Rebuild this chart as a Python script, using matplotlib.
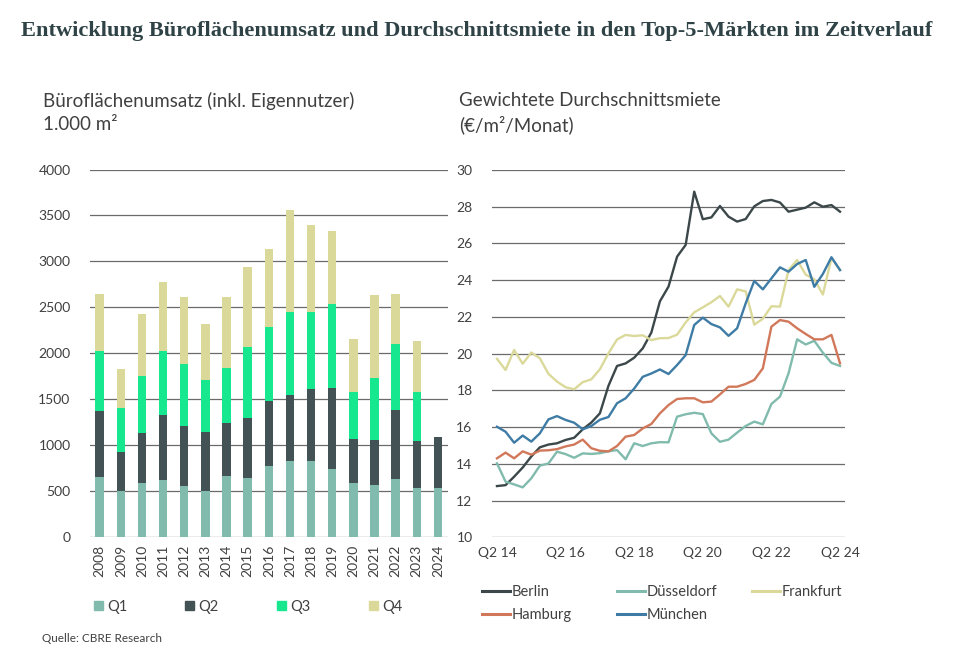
"""
Office take-up (stacked by quarter) and weighted average rent in the
top-5 German markets, side by side. Saves out.png.
"""

import matplotlib

matplotlib.use("Agg")
import matplotlib.pyplot as plt
from matplotlib.lines import Line2D
from matplotlib.patches import Patch

# ---- data: office take-up, 1.000 m2 per quarter ----
years = ["2008", "2009", "2010", "2011", "2012", "2013", "2014", "2015", "2016",
         "2017", "2018", "2019", "2020", "2021", "2022", "2023", "2024"]
q1 = [647, 498, 578, 614, 553, 498, 654, 633, 767, 818, 818, 738, 578, 556, 625, 524, 534]
q2 = [717, 426, 553, 710, 647, 644, 586, 661, 713, 727, 789, 880, 484, 495, 749, 520, 546]
q3 = [661, 476, 622, 701, 683, 567, 593, 771, 807, 898, 844, 916, 509, 680, 724, 534, 0]
q4 = [618, 425, 676, 749, 731, 611, 781, 873, 847, 1113, 945, 800, 585, 902, 545, 556, 0]

# ---- data: weighted average rent, EUR/m2/month, Q2 2014 .. Q2 2024 ----
quarter_ticks = ["Q2 14", "Q2 16", "Q2 18", "Q2 20", "Q2 22", "Q2 24"]
berlin = [12.79, 12.84, 13.30, 13.80, 14.40, 14.90, 15.05, 15.12, 15.30, 15.42,
          15.88, 16.25, 16.75, 18.25, 19.33, 19.47, 19.78, 20.29, 21.15, 22.85,
          23.65, 25.28, 25.92, 28.82, 27.32, 27.42, 28.04, 27.46, 27.19, 27.33,
          28.02, 28.31, 28.37, 28.23, 27.73, 27.84, 27.95, 28.24, 28.00, 28.09, 27.73]
duesseldorf = [14.03, 13.03, 12.88, 12.72, 13.21, 13.90, 14.02, 14.66, 14.53, 14.33,
               14.57, 14.54, 14.58, 14.68, 14.75, 14.25, 15.12, 14.97, 15.12, 15.18,
               15.17, 16.57, 16.70, 16.78, 16.71, 15.66, 15.20, 15.32, 15.70, 16.06,
               16.30, 16.15, 17.26, 17.66, 18.93, 20.78, 20.50, 20.70, 20.05, 19.50, 19.33]
frankfurt = [19.72, 19.11, 20.20, 19.45, 20.06, 19.75, 18.90, 18.48, 18.17, 18.06,
             18.45, 18.60, 19.15, 20.02, 20.77, 21.02, 20.96, 21.00, 20.74, 20.84,
             20.85, 21.03, 21.70, 22.25, 22.52, 22.80, 23.14, 22.56, 23.50, 23.39,
             21.58, 21.90, 22.58, 22.56, 24.55, 25.10, 24.30, 24.05, 23.22, 25.20, 24.55]
hamburg = [14.30, 14.61, 14.30, 14.68, 14.50, 14.72, 14.74, 14.80, 14.95, 15.05,
           15.32, 14.85, 14.71, 14.68, 14.97, 15.48, 15.57, 15.93, 16.17, 16.75,
           17.20, 17.53, 17.57, 17.57, 17.35, 17.39, 17.78, 18.20, 18.20, 18.35,
           18.57, 19.20, 21.47, 21.83, 21.74, 21.38, 21.07, 20.78, 20.78, 21.02, 19.47]
muenchen = [16.02, 15.75, 15.15, 15.54, 15.21, 15.66, 16.42, 16.60, 16.39, 16.24,
            15.88, 16.06, 16.40, 16.55, 17.30, 17.57, 18.10, 18.74, 18.92, 19.14,
            18.89, 19.38, 19.92, 21.56, 21.96, 21.61, 21.43, 20.97, 21.38, 22.74,
            23.96, 23.50, 24.10, 24.70, 24.46, 24.88, 25.10, 23.64, 24.34, 25.25, 24.55]

Q_COLORS = ["#80bbad", "#435254", "#17e88f", "#dbd99a"]
CITY_COLORS = {"Berlin": "#3b4749", "Düsseldorf": "#80bbad", "Frankfurt": "#dbd99a",
               "Hamburg": "#d2785a", "München": "#3e7ca6"}
TEXT = "#404040"
GRID = "#6b6b6b"
SANS = ["Lato", "DejaVu Sans"]

plt.rcParams["font.family"] = SANS


def px(x, y):
    """pixel position (from top-left) -> figure fraction"""
    return x / 967, 1 - y / 661


def main():
    fig = plt.figure(figsize=(9.67, 6.61), dpi=100)

    fig.text(*px(477, 31), "Entwicklung Büroflächenumsatz und Durchschnittsmiete in den "
             "Top-5-Märkten im Zeitverlauf", family="Liberation Serif", weight="bold",
             fontsize=16.1, color="#2f4346", ha="center", va="center")

    fig.text(*px(43, 101), "Büroflächenumsatz (inkl. Eigennutzer)", fontsize=13.5,
             color=TEXT, va="center")
    fig.text(*px(43, 125), "1.000 m²", fontsize=13.5, color=TEXT, va="center")
    fig.text(*px(459, 101), "Gewichtete Durchschnittsmiete", fontsize=13.5,
             color=TEXT, va="center")
    fig.text(*px(459, 125), "(€/m²/Monat)", fontsize=13.5, color=TEXT, va="center")
    fig.text(*px(42, 639), "Quelle: CBRE Research", fontsize=8.5, color=TEXT, va="center")

    # ---- left: stacked bars ----
    ax = fig.add_axes([90 / 967, 124.5 / 661, 357.6 / 967, 367 / 661])
    x = list(range(len(years)))
    bottom = [0] * len(years)
    for vals, col, lab in zip((q1, q2, q3, q4), Q_COLORS, ("Q1", "Q2", "Q3", "Q4")):
        ax.bar(x, vals, width=0.4, bottom=bottom, color=col, label=lab, zorder=3)
        bottom = [b + v for b, v in zip(bottom, vals)]
    ax.set_xlim(-0.46, len(years) - 0.54)
    ax.set_ylim(0, 4000)
    ax.set_yticks(range(0, 4001, 500))
    ax.set_xticks(x)
    ax.set_xticklabels(years, rotation=90)
    ax.grid(axis="y", color=GRID, lw=0.9)
    ax.set_axisbelow(True)
    ax.tick_params(length=0, labelsize=10, colors=TEXT)
    ax.tick_params(axis="y", pad=14)
    ax.tick_params(axis="x", pad=6)
    for s in ax.spines.values():
        s.set_visible(False)

    handles = [Patch(color=c) for c in Q_COLORS]
    fig.legend(handles, ["Q1", "Q2", "Q3", "Q4"], loc="center",
               bbox_to_anchor=px(248, 607), ncol=4, frameon=False, fontsize=10.5,
               handlelength=0.6, handleheight=0.6, handletextpad=0.3,
               columnspacing=4.0, labelcolor=TEXT)

    # ---- right: rent lines ----
    ax2 = fig.add_axes([492 / 967, 123.7 / 661, 353 / 967, 367.3 / 661])
    series = {"Berlin": berlin, "Düsseldorf": duesseldorf, "Frankfurt": frankfurt,
              "Hamburg": hamburg, "München": muenchen}
    for name, vals in series.items():
        ax2.plot(range(len(vals)), vals, color=CITY_COLORS[name], lw=1.7, zorder=3)
    ax2.set_xlim(-0.58, 40.58)
    ax2.set_ylim(10, 30)
    ax2.set_yticks(range(10, 31, 2))
    ax2.set_xticks(range(0, 41, 8))
    ax2.set_xticklabels(quarter_ticks)
    ax2.grid(axis="y", color=GRID, lw=0.9)
    ax2.set_axisbelow(True)
    ax2.tick_params(length=0, labelsize=10, colors=TEXT)
    ax2.tick_params(axis="y", pad=14)
    ax2.tick_params(axis="x", pad=7)
    for s in ax2.spines.values():
        s.set_visible(False)

    # one legend per column so the columns sit where the original has them
    columns = [(482, ["Berlin", "Hamburg"]), (617, ["Düsseldorf", "München"]),
               (752, ["Frankfurt"])]
    for xpos, names in columns:
        hs = [Line2D([], [], color=CITY_COLORS[n], lw=2.2) for n in names]
        fig.legend(hs, names, loc="upper left", bbox_to_anchor=px(xpos, 585),
                   frameon=False, fontsize=10.5, handlelength=1.9, handletextpad=0.15,
                   labelspacing=0.62, borderpad=0, borderaxespad=0, labelcolor=TEXT)

    fig.savefig("out.png", dpi=100)


if __name__ == "__main__":
    main()
